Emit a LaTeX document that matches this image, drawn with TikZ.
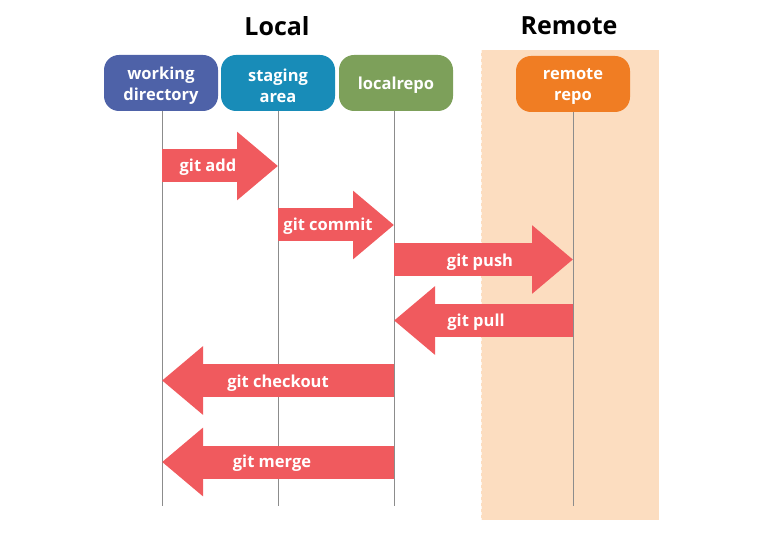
\documentclass[tikz,border=0pt]{standalone}
\usepackage{fontspec}
\setmainfont{Open Sans}
\usetikzlibrary{arrows.meta}
\definecolor{wdcol}{RGB}{78,98,168}
\definecolor{stcol}{RGB}{24,140,184}
\definecolor{lrcol}{RGB}{125,160,90}
\definecolor{rrcol}{RGB}{240,125,35}
\definecolor{arcol}{RGB}{240,90,94}
\definecolor{bgcol}{RGB}{252,221,192}
\definecolor{lifecol}{RGB}{140,140,140}
\tikzset{
  box/.style={rounded corners=15pt, minimum width=114pt, minimum height=56pt, inner sep=0pt},
  boxtext/.style={text=white, align=center, inner sep=0pt, font=\fontsize{16.5}{21}\selectfont\bfseries},
  title/.style={font=\fontsize{25}{28}\selectfont\bfseries, text=black},
  life/.style={draw=lifecol, line width=1pt},
  bigarrow/.style={draw=arcol, line width=33pt, -{Triangle[length=41pt,width=66pt]}},
  lbl/.style={text=white, font=\fontsize{16.5}{19}\selectfont\bfseries, inner sep=0pt}
}
\begin{document}
\begin{tikzpicture}[x=1pt,y=-1pt]
\useasboundingbox (0,0) rectangle (765,534);
\fill[bgcol] (481,50) rectangle (659,520);
\draw[white!70!bgcol, dashed, line width=0.6pt] (481,50) -- (481,520);
\node[title] (local) at (277,26) {Local};
\node[title] (remote) at (569,26) {Remote};
\node[box, fill=wdcol] (wd) at (161,83) {};
\node[box, fill=stcol] (st) at (278,83) {};
\node[box, fill=lrcol] (lr) at (396,83) {};
\node[box, fill=rrcol] (rr) at (573,84) {};
\node[boxtext] (wdt) at ([yshift=-3pt]wd.center) {working\\directory};
\node[boxtext] (stt) at ([yshift=-3pt]st.center) {staging\\area};
\node[boxtext] (lrt) at ([yshift=-2pt]lr.center) {localrepo};
\node[boxtext] (rrt) at ([yshift=-3pt]rr.center) {remote\\repo};
\coordinate (wdend) at (162,506);
\coordinate (stend) at (278,506);
\coordinate (lrend) at (394,506);
\coordinate (rrend) at (573,506);
\draw[life] (wd.south -| wdend) -- (wdend);
\draw[life] (st.south -| stend) -- (stend);
\draw[life] (lr.south -| lrend) -- (lrend);
\draw[life] (rr.south -| rrend) -- (rrend);
\coordinate (yadd) at (0,166);
\coordinate (ycommit) at (0,225);
\coordinate (ypush) at (0,259.5);
\coordinate (ypull) at (0,320.5);
\coordinate (ycheckout) at (0,380.5);
\coordinate (ymerge) at (0,462);
\draw[bigarrow] (wdend |- yadd) -- (stend |- yadd);
\draw[bigarrow] (stend |- ycommit) -- (lrend |- ycommit);
\draw[bigarrow] (lrend |- ypush) -- (rrend |- ypush);
\draw[bigarrow] (rrend |- ypull) -- (lrend |- ypull);
\draw[bigarrow] (lrend |- ycheckout) -- (wdend |- ycheckout);
\draw[bigarrow] (lrend |- ymerge) -- (wdend |- ymerge);
\node[lbl] (ladd) at (208,167) {git add};
\node[lbl] (lcommit) at (328,226) {git commit};
\node[lbl] (lpush) at (480,262) {git push};
\node[lbl] (lpull) at (476,322) {git pull};
\node[lbl] (lcheckout) at (278,383) {git checkout};
\node[lbl] (lmerge) at (272,463) {git merge};
\end{tikzpicture}
\end{document}
